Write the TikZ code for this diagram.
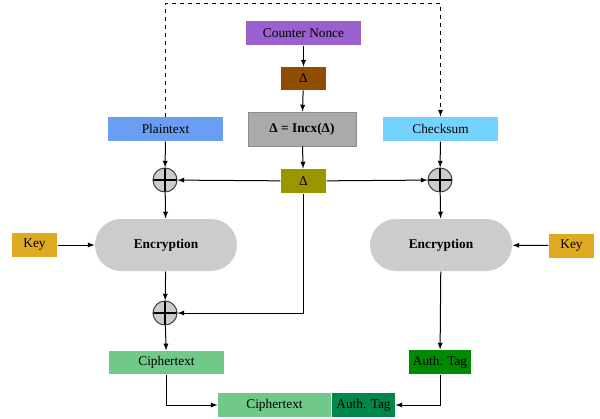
\documentclass[tikz,border=0pt]{standalone}
\usepackage{fontspec}
\setmainfont{Liberation Serif}
\usetikzlibrary{arrows,shapes,positioning,calc}
\definecolor{nonce-purple}{HTML}{9A60CE}
\definecolor{delta-brown}{HTML}{904C00}
\definecolor{incx-gray}{HTML}{AAAAAA}
\definecolor{plain-blue}{HTML}{6A9EF2}
\definecolor{check-cyan}{HTML}{74D3FC}
\definecolor{delta-olive}{HTML}{999600}
\definecolor{key-gold}{HTML}{DEAA22}
\definecolor{enc-gray}{HTML}{CCCCCC}
\definecolor{cipher-green}{HTML}{70C988}
\definecolor{tag-green}{HTML}{008A00}
\definecolor{tag-dark}{HTML}{00884C}

\begin{document}
\begin{tikzpicture}[x=0.75pt, y=-0.75pt, >=latex, line width=0.75pt,
    box/.style={rectangle, inner sep=0pt, minimum width=86pt, minimum height=18pt},
    small/.style={box, minimum width=34pt},
    enc/.style={rounded rectangle, fill=enc-gray, inner sep=0pt, minimum width=106.5pt, minimum height=39pt, font=\bfseries},
    xor/.style={circle, draw=black!75, fill=enc-gray, inner sep=0pt, minimum size=18pt,
        path picture={\draw[black, line width=0.9pt] (path picture bounding box.north) -- (path picture bounding box.south)
            (path picture bounding box.west) -- (path picture bounding box.east);}}]

    \useasboundingbox (0,0) rectangle (600,418);

    \node[box, fill=nonce-purple] (nonce) at (303.5,33) {Counter Nonce};
    \node[small, fill=delta-brown, minimum height=17pt] (d1) at (303.5,78.5) {Δ};
    \node[box, draw=black!45, fill=incx-gray, minimum width=81pt, minimum height=25.5pt, font=\bfseries] (incx) at (302,129) {Δ = Incx(Δ)};
    \node[box, fill=plain-blue] (plain) at (165.5,129) {Plaintext};
    \node[box, fill=check-cyan] (check) at (440.5,129) {Checksum};
    \node[small, fill=delta-olive] (d2) at (303.5,181) {Δ};

    \node[xor] (x1) at (165,180) {};
    \node[xor] (x2) at (440,180) {};
    \node[enc] (e1) at (166,245) {Encryption};
    \node[enc] (e2) at (441,245) {Encryption};
    \node[small, fill=key-gold] (k1) at (34.5,245) {Key};
    \node[small, fill=key-gold] (k2) at (571.5,245.5) {Key};
    \node[xor] (x3) at (165,313) {};

    \node[box, fill=cipher-green, minimum height=17.5pt] (ct) at (166.5,362.5) {Ciphertext};
    \node[box, fill=tag-green, minimum width=46.5pt] (tag) at (440,362) {Auth. Tag};
    \node[box, fill=cipher-green, minimum width=84.75pt] (ct2) at (274.5,405) {Ciphertext};
    \node[box, fill=tag-dark, minimum width=47.25pt, anchor=west] (tag2) at (ct2.east) {Auth. Tag};

    \coordinate (top) at (303,3);

    \draw[->] (nonce) -- (d1);
    \draw[->] (d1) -- (incx);
    \draw[->] (incx) -- (d2);
    \draw[dashed, ->] (plain.north) |- (top) -| (check.north);
    \draw[->] (plain) -- (x1);
    \draw[->] (check) -- (x2);
    \draw[->] (d2) -- (x1);
    \draw[->] (d2) -- (x2);
    \draw[->] (x1) -- (e1);
    \draw[->] (x2) -- (e2);
    \draw[->] (k1) -- (e1);
    \draw[->] (k2) -- (e2);
    \draw[->] (e1) -- (x3);
    \draw[->] (d2.south) |- (x3);
    \draw[->] (x3) -- (ct);
    \draw[->] (e2) -- (tag);
    \draw[->] (ct.south) |- (ct2.west);
    \draw[->] (tag.south) |- (tag2.east);

\end{tikzpicture}
\end{document}
